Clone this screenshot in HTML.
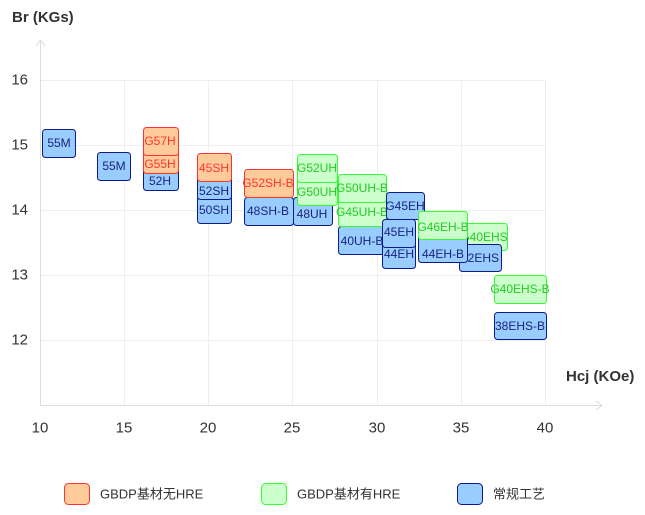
<!DOCTYPE html>
<html><head><meta charset="utf-8"><style>
html,body{margin:0;padding:0;background:#fff;}
svg{display:block;font-family:"Liberation Sans","Noto Sans CJK SC",sans-serif;}
.b rect{fill:#99ccff;stroke:#0d1a8c;}
.b text{fill:#1a237e;}
.o rect{fill:#ffcc99;stroke:#ff3333;}
.o text{fill:#ff3333;}
.g rect{fill:#ccffcc;stroke:#33ff33;}
.g text{fill:#22cc22;}
.b text,.o text,.g text{font-size:12px;text-anchor:middle;dominant-baseline:central;}
.yl text{font-size:15px;fill:#333;text-anchor:end;dominant-baseline:central;}
.xl text{font-size:15px;fill:#333;text-anchor:middle;dominant-baseline:central;}
.lg text{font-size:13px;fill:#333;text-anchor:start;dominant-baseline:central;}
</style></head><body>
<svg width="645" height="515" viewBox="0 0 645 515">
<g stroke="#eeeeee" stroke-width="1">
<line x1="124.5" y1="80" x2="124.5" y2="405"/><line x1="208.5" y1="80" x2="208.5" y2="405"/>
<line x1="292.5" y1="80" x2="292.5" y2="405"/><line x1="377.5" y1="80" x2="377.5" y2="405"/>
<line x1="461.5" y1="80" x2="461.5" y2="405"/><line x1="545.5" y1="80" x2="545.5" y2="405"/>
<line x1="40" y1="80.5" x2="545" y2="80.5"/><line x1="40" y1="145.5" x2="545" y2="145.5"/>
<line x1="40" y1="210.5" x2="545" y2="210.5"/><line x1="40" y1="275.5" x2="545" y2="275.5"/>
<line x1="40" y1="340.5" x2="545" y2="340.5"/>
</g>
<g stroke="#dddddd" stroke-width="1" fill="none">
<line x1="40.5" y1="40" x2="40.5" y2="405"/><polyline points="36,46 40.5,40 45,46"/>
<line x1="40" y1="405.5" x2="602" y2="405.5"/><polyline points="596,401 602,405.5 596,410"/>
</g>
<g class="yl">
<text x="28" y="80">16</text><text x="28" y="145">15</text>
<text x="28" y="210">14</text><text x="28" y="275">13</text>
<text x="28" y="340">12</text>
</g>
<g class="xl">
<text x="40" y="428">10</text><text x="124" y="428">15</text><text x="208" y="428">20</text>
<text x="292" y="428">25</text><text x="377" y="428">30</text><text x="461" y="428">35</text><text x="545" y="428">40</text>
</g>
<text x="12" y="22" font-size="15" font-weight="bold" fill="#333">Br (KGs)</text>
<text x="566" y="381" font-size="15" font-weight="bold" fill="#333">Hcj (KOe)</text>

<g class="b"><rect x="42.5" y="129.5" width="33" height="28" rx="3"/><text x="59" y="143">55M</text></g>
<g class="b"><rect x="97.5" y="152.5" width="33" height="28" rx="3"/><text x="114" y="166">55M</text></g>
<g class="b"><rect x="143.5" y="166.5" width="35" height="24" rx="3"/><text x="160" y="181">52H</text></g>
<g class="o"><rect x="143.5" y="150.5" width="35" height="23" rx="3"/><text x="160" y="164">G55H</text></g>
<g class="o"><rect x="143.5" y="127.5" width="35" height="28" rx="3"/><text x="160" y="141">G57H</text></g>
<g class="b"><rect x="197.5" y="195.5" width="34" height="28" rx="3"/><text x="214" y="210">50SH</text></g>
<g class="b"><rect x="197.5" y="176.5" width="34" height="23" rx="3"/><text x="214" y="191">52SH</text></g>
<g class="o"><rect x="197.5" y="153.5" width="34" height="28" rx="3"/><text x="214" y="168">45SH</text></g>
<g class="b"><rect x="244.5" y="197.5" width="49" height="28" rx="3"/><text x="268" y="211">48SH-B</text></g>
<g class="o"><rect x="244.5" y="169.5" width="49" height="28" rx="3"/><text x="268" y="183">G52SH-B</text></g>
<g class="b"><rect x="293.5" y="197.5" width="39" height="28" rx="3"/><text x="312" y="214">48UH</text></g>
<g class="g"><rect x="297.5" y="177.5" width="40" height="28" rx="3"/><text x="317" y="192">G50UH</text></g>
<g class="g"><rect x="297.5" y="154.5" width="40" height="28" rx="3"/><text x="317" y="168">G52UH</text></g>
<g class="b"><rect x="338.5" y="226.5" width="48" height="28" rx="3"/><text x="362" y="241">40UH-B</text></g>
<g class="g"><rect x="338.5" y="198.5" width="48" height="28" rx="3"/><text x="362" y="212">G45UH-B</text></g>
<g class="g"><rect x="338.5" y="174.5" width="48" height="28" rx="3"/><text x="362" y="188">G50UH-B</text></g>
<g class="b"><rect x="386.5" y="192.5" width="38" height="27" rx="3"/><text x="405" y="206">G45EH</text></g>
<g class="b"><rect x="382.5" y="240.5" width="33" height="28" rx="3"/><text x="399" y="254">44EH</text></g>
<g class="b"><rect x="382.5" y="219.5" width="33" height="28" rx="3"/><text x="399" y="232">45EH</text></g>
<g class="g"><rect x="460.5" y="223.5" width="47" height="27" rx="3"/><text x="484" y="237">G40EHS</text></g>
<g class="b"><rect x="459.5" y="244.5" width="42" height="27" rx="3"/><text x="480" y="258">32EHS</text></g>
<g class="b"><rect x="418.5" y="234.5" width="49" height="28" rx="3"/><text x="443" y="254">44EH-B</text></g>
<g class="g"><rect x="418.5" y="211.5" width="49" height="28" rx="3"/><text x="443" y="227">G46EH-B</text></g>
<g class="g"><rect x="494.5" y="275.5" width="52" height="28" rx="3"/><text x="520" y="289">G40EHS-B</text></g>
<g class="b"><rect x="494.5" y="312.5" width="52" height="27" rx="3"/><text x="520" y="326">38EHS-B</text></g>

<g class="o"><rect x="64.5" y="483.5" width="25" height="21" rx="4"/></g>
<g class="g"><rect x="261.5" y="483.5" width="25" height="21" rx="4"/></g>
<g class="b"><rect x="457.5" y="483.5" width="25" height="21" rx="4"/></g>
<g class="lg">
<text x="100" y="494">GBDP基材无HRE</text>
<text x="297" y="494">GBDP基材有HRE</text>
<text x="493" y="494">常规工艺</text>
</g>
</svg>
</body></html>
